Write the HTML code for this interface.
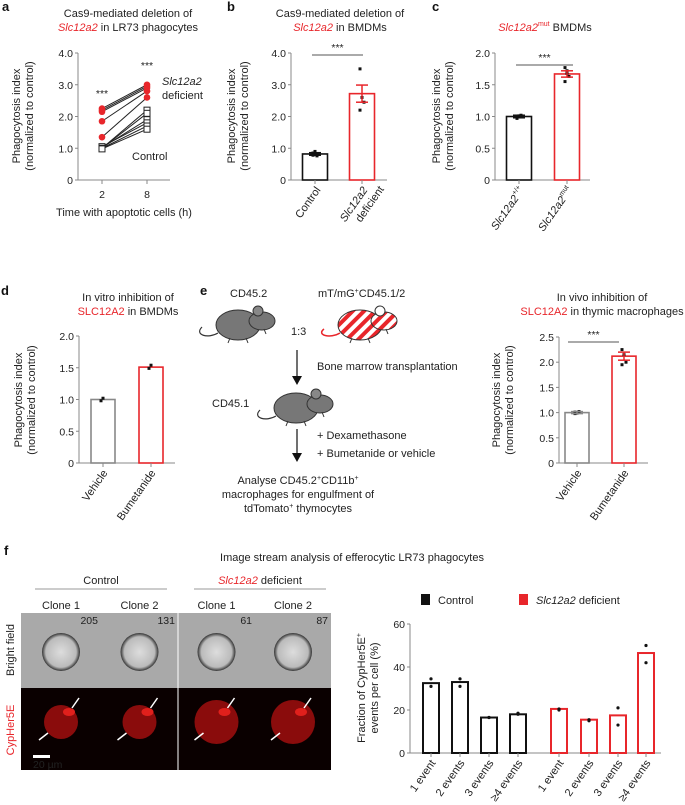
<!DOCTYPE html>
<html><head><meta charset="utf-8"><style>
body{margin:0;background:#fff;}
svg{display:block;font-family:"Liberation Sans",sans-serif;}
.t{font-size:11px;fill:#222;}
.tk{font-size:10.5px;fill:#222;}
.lbl{font-size:13px;font-weight:bold;fill:#111;}
.red{fill:#e8262b;}
</style></head><body>
<svg id="fig" width="685" height="805" viewBox="0 0 685 805">
<defs>
<pattern id="stripes" patternUnits="userSpaceOnUse" width="8" height="8" patternTransform="rotate(45)">
<rect width="8" height="8" fill="#fff"/><rect width="4" height="8" fill="#e8262b"/></pattern>
<radialGradient id="cellg" cx="50%" cy="50%" r="50%"><stop offset="0%" stop-color="#ddd"/><stop offset="80%" stop-color="#bbb"/><stop offset="100%" stop-color="#333"/></radialGradient>
</defs>
<!-- panel labels -->
<text class="lbl" x="2" y="11">a</text>
<text class="lbl" x="227" y="11">b</text>
<text class="lbl" x="432" y="11">c</text>
<text class="lbl" x="1" y="295">d</text>
<text class="lbl" x="200" y="295">e</text>
<text class="lbl" x="4" y="555">f</text>
<!-- titles -->
<g>
<text class="t" x="128" y="17" text-anchor="middle">Cas9-mediated deletion of</text>
<text class="t" x="128" y="31" text-anchor="middle"><tspan class="red" font-style="italic">Slc12a2</tspan> in LR73 phagocytes</text></g>
<g>
<text class="t" x="340" y="17" text-anchor="middle">Cas9-mediated deletion of</text>
<text class="t" x="340" y="31" text-anchor="middle"><tspan class="red" font-style="italic">Slc12a2</tspan> in BMDMs</text></g>
<g>
<text class="t" x="545" y="31" text-anchor="middle"><tspan class="red" font-style="italic">Slc12a2</tspan><tspan class="red" font-size="7" dy="-5">mut</tspan><tspan dy="5"> BMDMs</tspan></text></g>
<g>
<text class="t" x="128" y="301" text-anchor="middle">In vitro inhibition of</text>
<text class="t" x="128" y="315" text-anchor="middle"><tspan class="red">SLC12A2</tspan> in BMDMs</text></g>
<g>
<text class="t" x="602" y="301" text-anchor="middle">In vivo inhibition of</text>
<text class="t" x="602" y="315" text-anchor="middle"><tspan class="red">SLC12A2</tspan> in thymic macrophages</text></g>
<!-- panel e schematic -->
<g id="schematic">
<text class="t" x="230" y="297">CD45.2</text>
<text class="t" x="318" y="297">mT/mG<tspan font-size="7" dy="-4">+</tspan><tspan dy="4">CD45.1/2</tspan></text>
<g transform="translate(200,305)">
<path d="M2,22 C-6,30 8,34 18,28" fill="none" stroke="#333" stroke-width="1.2"/>
<ellipse cx="38" cy="20" rx="22" ry="15" fill="#777" stroke="#333"/>
<ellipse cx="62" cy="16" rx="13" ry="9" fill="#777" stroke="#333"/>
<circle cx="58" cy="6" r="5" fill="#888" stroke="#333"/>
<path d="M30,33 l-2,5 M46,33 l2,5 M64,24 l2,5" stroke="#333"/></g>
<text class="t" x="291" y="335">1:3</text>
<g transform="translate(322,305)">
<path d="M2,24 C-6,30 8,34 18,28" fill="none" stroke="#e8262b" stroke-width="1.5"/>
<ellipse cx="38" cy="20" rx="22" ry="15" fill="url(#stripes)" stroke="#333"/>
<ellipse cx="62" cy="16" rx="13" ry="9" fill="url(#stripes)" stroke="#333"/>
<circle cx="58" cy="6" r="5" fill="#fff" stroke="#333"/>
<path d="M30,33 l-2,5 M46,33 l2,5 M64,24 l2,5" stroke="#333"/></g>
<g><line x1="297" y1="350" x2="297" y2="378" stroke="#111" stroke-width="1.2"/><path d="M292,376 L302,376 L297,385 Z" fill="#111"/></g>
<text class="t" x="317" y="370">Bone marrow transplantation</text>
<text class="t" x="212" y="407">CD45.1</text>
<g transform="translate(258,388)">
<path d="M2,22 C-6,30 8,34 18,28" fill="none" stroke="#333" stroke-width="1.2"/>
<ellipse cx="38" cy="20" rx="22" ry="15" fill="#777" stroke="#333"/>
<ellipse cx="62" cy="16" rx="13" ry="9" fill="#777" stroke="#333"/>
<circle cx="58" cy="6" r="5" fill="#888" stroke="#333"/>
<path d="M30,33 l-2,5 M46,33 l2,5 M64,24 l2,5" stroke="#333"/></g>
<g><line x1="297" y1="429" x2="297" y2="455" stroke="#111" stroke-width="1.2"/><path d="M292,453 L302,453 L297,462 Z" fill="#111"/></g>
<text class="t" x="317" y="439">+ Dexamethasone</text>
<text class="t" x="317" y="457">+ Bumetanide or vehicle</text>
<g>
<text class="t" x="298" y="484" text-anchor="middle">Analyse CD45.2<tspan font-size="7" dy="-4">+</tspan><tspan dy="4">CD11b</tspan><tspan font-size="7" dy="-4">+</tspan></text>
<text class="t" x="298" y="498" text-anchor="middle">macrophages for engulfment of</text>
<text class="t" x="298" y="512" text-anchor="middle">tdTomato<tspan font-size="7" dy="-4">+</tspan><tspan dy="4"> thymocytes</tspan></text></g>
</g>
<!-- panel f images -->
<text class="t" x="352" y="561" text-anchor="middle">Image stream analysis of efferocytic LR73 phagocytes</text>
<text class="t" x="101" y="584" text-anchor="middle">Control</text>
<line x1="35" y1="589" x2="167" y2="589" stroke="#999"/>
<text class="t" x="260" y="584" text-anchor="middle"><tspan class="red" font-style="italic">Slc12a2</tspan> deficient</text>
<line x1="194" y1="589" x2="326" y2="589" stroke="#999"/>
<g id="imgs"></g>
<text class="t" transform="translate(14,650) rotate(-90)" text-anchor="middle">Bright field</text>
<text class="t red" transform="translate(14,730) rotate(-90)" text-anchor="middle">CypHer5E</text>
<g id="charts"></g>
</svg>
<script>
// ---------- data ----------
const aTimes = ['2','8'];
const aTicks = [0,1,2,3,4];
const aTickLabels = ['0','1.0','2.0','3.0','4.0'];
const aCtrl2 = [1.0,1.0,1.02,1.05,1.0,0.98];
const aCtrl8 = [2.2,2.1,1.9,1.8,1.7,1.6];
const aDef2 = [2.25,2.2,2.15,1.85,1.35];
const aDef8 = [3.0,2.95,2.9,2.8,2.6];

const bCats = ['Control','deficient'];
const bMeans = [0.82,2.72];
const bSem = [0.04,0.27];
const bPts = [[0.78,0.8,0.82,0.85,0.9,0.76],[3.5,2.6,2.45,2.2]];
const bTicks = [0,1,2,3,4];
const bTickLabels = ['0','1.0','2.0','3.0','4.0'];

const cMeans = [1.0,1.67];
const cSem = [0.02,0.05];
const cPts = [[0.98,1.0,1.02,0.97,1.01],[1.77,1.72,1.63,1.55,1.68]];
const cTicks = [0,0.5,1,1.5,2];
const cTickLabels = ['0','0.5','1.0','1.5','2.0'];

const dCats = ['Vehicle','Bumetanide'];
const dMeans = [1.0,1.51];
const dPts = [[0.98,1.02],[1.49,1.54]];
const dTicks = [0,0.5,1,1.5,2];
const dTickLabels = ['0','0.5','1.0','1.5','2.0'];

const eCats = ['Vehicle','Bumetanide'];
const eMeans = [1.0,2.12];
const eSem = [0.02,0.08];
const ePts = [[0.98,1.0,1.02,1.01,0.99],[2.25,2.15,2.0,1.95]];
const eTicks = [0,0.5,1,1.5,2,2.5];
const eTickLabels = ['0','0.5','1.0','1.5','2.0','2.5'];

const fCats = ['1 event','2 events','3 events','\u22654 events','1 event','2 events','3 events','\u22654 events'];
const fMeans = [32.5,33,16.5,18,20.5,15.5,17.5,46.5];
const fPts = [[34.5,31],[34.5,31],[16.5,16.5],[18.5,18],[20.5,20],[15.5,15],[21,13],[50,42]];
const fTicks = [0,20,40,60];
const fTickLabels = ['0','20','40','60'];

// ---------- helpers ----------
const NS='http://www.w3.org/2000/svg';
const root=document.getElementById('charts');
function mk(tag,attrs,parent,name){
  const el=document.createElementNS(NS,tag);
  for(const k in attrs) el.setAttribute(k,attrs[k]);
  
  
  (parent||root).appendChild(el);
  return el;
}
function txt(x,y,s,parent,name,extra){
  const t=mk('text',Object.assign({x:x,y:y,'class':'tk'},extra||{}),parent,name);
  t.textContent=s; return t;
}
const RED='#e8262b', AX='#888';
function yAxis(g,x,y0,y1,max,ticks,labels,x2,name){
  const sc=v=>y0-(v/max)*(y0-y1);
  mk('line',{x1:x,y1:y0,x2:x,y2:y1,stroke:AX,'stroke-width':1},g,name+'-y-axis');
  mk('line',{x1:x,y1:y0,x2:x2,y2:y0,stroke:AX,'stroke-width':1},g,name+'-x-axis');
  ticks.forEach((v,i)=>{
    mk('line',{x1:x-3,y1:sc(v),x2:x,y2:sc(v),stroke:AX},g,name+'-y-tick');
    txt(x-5,sc(v)+4,labels[i],g,name+'-y-tick-label',{'text-anchor':'end','font-size':'11'});
  });
  return sc;
}
function yTitle(g,x,yc,name){
  const t=mk('text',{transform:'translate('+x+','+yc+') rotate(-90)','text-anchor':'middle','class':'t'},g,name+'-y-title');
  t.innerHTML='<tspan x="0" dy="0">Phagocytosis index</tspan><tspan x="0" dy="13">(normalized to control)</tspan>';
}
function bars(g,sc,xs,w,means,pts,sem,colors,name){
  means.forEach((m,i)=>{
    mk('rect',{x:xs[i]-w/2,y:sc(m),width:w,height:sc(0)-sc(m),fill:'#fff',stroke:colors[i],'stroke-width':1.6},g,name+'-bar-'+i);
    pts[i].forEach((p,j)=>{
      mk('rect',{x:xs[i]-1.5+((j%3)-1)*2,y:sc(p)-1.5,width:3,height:3,fill:'#111'},g,name+'-point');
    });
    if(sem){
      mk('line',{x1:xs[i],y1:sc(m-sem[i]),x2:xs[i],y2:sc(m+sem[i]),stroke:colors[i],'stroke-width':1.5},g,name+'-sem-'+i);
      mk('line',{x1:xs[i]-6,y1:sc(m-sem[i]),x2:xs[i]+6,y2:sc(m-sem[i]),stroke:colors[i],'stroke-width':1.5},g,name+'-sem-cap');
      mk('line',{x1:xs[i]-6,y1:sc(m+sem[i]),x2:xs[i]+6,y2:sc(m+sem[i]),stroke:colors[i],'stroke-width':1.5},g,name+'-sem-cap');
    }
  });
}
function sig(g,x1,x2,y,name){
  mk('line',{x1:x1,y1:y,x2:x2,y2:y,stroke:'#555'},g,name+'-sig-line');
  txt((x1+x2)/2,y-4,'***',g,name+'-sig-stars',{'text-anchor':'middle','font-size':'10'});
}
function rotLabel(g,x,y,html,name){
  const t=mk('text',{transform:'translate('+x+','+y+') rotate(-55)','text-anchor':'end','class':'t'},g,name);
  t.innerHTML=html;
}

// ---------- panel a ----------
(function(){
  const g=mk('g',{},root,'panel-a-chart');
  const sc=yAxis(g,78,180,53,4,aTicks,aTickLabels,170,'panel-a');
  yTitle(g,20,116,'panel-a');
  const xs=[102,147];
  aTimes.forEach((t,i)=>{
    mk('line',{x1:xs[i],y1:180,x2:xs[i],y2:184,stroke:AX},g,'panel-a-x-tick');
    txt(xs[i],198,t,g,'panel-a-x-tick-label',{'text-anchor':'middle','font-size':'11'});
  });
  txt(124,216,'Time with apoptotic cells (h)',g,'panel-a-x-title',{'text-anchor':'middle','class':'t'});
  aDef2.forEach((v,i)=>mk('line',{x1:xs[0],y1:sc(v),x2:xs[1],y2:sc(aDef8[i]),stroke:'#222'},g,'panel-a-deficient-line'));
  aCtrl2.forEach((v,i)=>mk('line',{x1:xs[0],y1:sc(v),x2:xs[1],y2:sc(aCtrl8[i]),stroke:'#222'},g,'panel-a-control-line'));
  aDef2.concat([]).forEach(v=>mk('circle',{cx:xs[0],cy:sc(v),r:3.3,fill:RED},g,'panel-a-deficient-point'));
  aDef8.forEach(v=>mk('circle',{cx:xs[1],cy:sc(v),r:3.3,fill:RED},g,'panel-a-deficient-point'));
  aCtrl2.forEach(v=>mk('rect',{x:xs[0]-3,y:sc(v)-3,width:6,height:6,fill:'#fff',stroke:'#222'},g,'panel-a-control-point'));
  aCtrl8.forEach(v=>mk('rect',{x:xs[1]-3,y:sc(v)-3,width:6,height:6,fill:'#fff',stroke:'#222'},g,'panel-a-control-point'));
  txt(xs[0],97,'***',g,'panel-a-stars-2h',{'text-anchor':'middle','font-size':'10'});
  txt(xs[1],69,'***',g,'panel-a-stars-8h',{'text-anchor':'middle','font-size':'10'});
  txt(162,85,'Slc12a2',g,'panel-a-deficient-label',{'class':'t','font-style':'italic'});
  txt(162,99,'deficient',g,'panel-a-deficient-label2',{'class':'t'});
  txt(132,160,'Control',g,'panel-a-control-label',{'class':'t'});
})();

// ---------- panel b ----------
(function(){
  const g=mk('g',{},root,'panel-b-chart');
  const sc=yAxis(g,291,180,53,4,bTicks,bTickLabels,387,'panel-b');
  yTitle(g,235,116,'panel-b');
  const xs=[315,362];
  bars(g,sc,xs,25,bMeans,bPts,bSem,['#111',RED],'panel-b');
  xs.forEach(x=>mk('line',{x1:x,y1:180,x2:x,y2:184,stroke:AX},g,'panel-b-x-tick'));
  rotLabel(g,xs[0]+6,190,'Control','panel-b-x-label-control');
  rotLabel(g,xs[1]+6,190,'<tspan font-style="italic">Slc12a2</tspan><tspan x="10" dy="13">deficient</tspan>','panel-b-x-label-deficient');
  sig(g,312,363,55,'panel-b');
})();

// ---------- panel c ----------
(function(){
  const g=mk('g',{},root,'panel-c-chart');
  const sc=yAxis(g,495,180,53,2,cTicks,cTickLabels,590,'panel-c');
  yTitle(g,440,116,'panel-c');
  const xs=[519,567];
  bars(g,sc,xs,25,cMeans,cPts,cSem,['#111',RED],'panel-c');
  xs.forEach(x=>mk('line',{x1:x,y1:180,x2:x,y2:184,stroke:AX},g,'panel-c-x-tick'));
  rotLabel(g,xs[0]+6,190,'<tspan font-style="italic">Slc12a2</tspan><tspan font-size="7" dy="-5">+/+</tspan>','panel-c-x-label-wt');
  rotLabel(g,xs[1]+6,190,'<tspan font-style="italic">Slc12a2</tspan><tspan font-size="7" dy="-5">mut</tspan>','panel-c-x-label-mut');
  sig(g,516,573,65,'panel-c');
})();

// ---------- panel d ----------
(function(){
  const g=mk('g',{},root,'panel-d-chart');
  const sc=yAxis(g,79,463,336,2,dTicks,dTickLabels,175,'panel-d');
  yTitle(g,22,400,'panel-d');
  const xs=[103,151];
  bars(g,sc,xs,24,dMeans,dPts,null,['#888',RED],'panel-d');
  xs.forEach((x,i)=>{
    mk('line',{x1:x,y1:463,x2:x,y2:467,stroke:AX},g,'panel-d-x-tick');
    rotLabel(g,x+5,473,dCats[i],'panel-d-x-label');
  });
})();

// ---------- panel e chart ----------
(function(){
  const g=mk('g',{},root,'panel-e-chart');
  const sc=yAxis(g,559,463,337,2.5,eTicks,eTickLabels,648,'panel-e');
  yTitle(g,500,400,'panel-e');
  const xs=[577,624];
  bars(g,sc,xs,24,eMeans,ePts,eSem,['#888',RED],'panel-e');
  xs.forEach((x,i)=>{
    mk('line',{x1:x,y1:463,x2:x,y2:467,stroke:AX},g,'panel-e-x-tick');
    rotLabel(g,x+5,473,eCats[i],'panel-e-x-label');
  });
  sig(g,568,619,342,'panel-e');
})();

// ---------- panel f chart ----------
(function(){
  const g=mk('g',{},root,'panel-f-chart');
  const sc=yAxis(g,410,753,624,60,fTicks,fTickLabels,661,'panel-f');
  const t=mk('text',{transform:'translate(365,688) rotate(-90)','text-anchor':'middle','class':'t'},g,'panel-f-y-title');
  t.innerHTML='<tspan x="0" dy="0">Fraction of CypHer5E<tspan font-size="7" dy="-4">+</tspan></tspan><tspan x="0" dy="17">events per cell (%)</tspan>';
  const xs=[431,460,489,518,559,589,618,646];
  fMeans.forEach((m,i)=>{
    const col=i<4?'#111':RED;
    mk('rect',{x:xs[i]-8,y:sc(m),width:16,height:sc(0)-sc(m),fill:'#fff',stroke:col,'stroke-width':2},g,'panel-f-bar-'+i);
    fPts[i].forEach(p=>mk('circle',{cx:xs[i],cy:sc(p),r:1.6,fill:'#111'},g,'panel-f-point'));
    mk('line',{x1:xs[i],y1:753,x2:xs[i],y2:757,stroke:AX},g,'panel-f-x-tick');
    rotLabel(g,xs[i]+5,763,fCats[i],'panel-f-x-label');
  });
  mk('rect',{x:421,y:594,width:9,height:11,fill:'#111'},g,'legend-control-swatch');
  txt(438,604,'Control',g,'legend-control-label',{'class':'t'});
  mk('rect',{x:519,y:594,width:9,height:11,fill:RED},g,'legend-deficient-swatch');
  const l=txt(536,604,'',g,'legend-deficient-label',{'class':'t'});
  l.innerHTML='<tspan font-style="italic">Slc12a2</tspan> deficient';
})();

// ---------- panel f images ----------
(function(){
  const g=document.getElementById('imgs');
  const clones=['Clone 1','Clone 2','Clone 1','Clone 2'];
  const counts=['205','131','61','87'];
  const cols=[21,101,178,255,331];
  for(let i=0;i<4;i++){
    const x0=cols[i],w=cols[i+1]-cols[i],cx=x0+w/2;
    txt(cx,609,clones[i],g,'clone-label',{'text-anchor':'middle','class':'t'});
    mk('rect',{x:x0,y:613,width:w,height:75,fill:'#a9a9a9'},g,'bright-field-image');
    mk('circle',{cx:cx,cy:652,r:19,fill:'url(#cellg)'},g,'bright-field-cell');
    txt(x0+w-3,624,counts[i],g,'cell-count',{'text-anchor':'end','font-size':'10'});
    mk('rect',{x:x0,y:688,width:w,height:82,fill:'#0a0000'},g,'cypher-image');
    mk('circle',{cx:cx,cy:722,r:i<2?17:22,fill:'#8a0c0c'},g,'cypher-cell');
    mk('ellipse',{cx:cx+8,cy:712,rx:6,ry:4,fill:'#e0201c'},g,'cypher-spot');
    mk('line',{x1:cx+18,y1:698,x2:cx+11,y2:708,stroke:'#fff','stroke-width':1.5},g,'arrow');
    mk('line',{x1:cx-22,y1:740,x2:cx-13,y2:733,stroke:'#fff','stroke-width':1.5},g,'arrow');
  }
  mk('line',{x1:178,y1:613,x2:178,y2:770,stroke:'#fff','stroke-width':1},g,'image-divider');
  mk('rect',{x:33,y:755,width:17,height:3,fill:'#fff'},g,'scale-bar');
  txt(33,768,'20 µm',g,'scale-bar-label',{fill:'#fff','font-size':'10'});
})();
</script>
</body></html>
